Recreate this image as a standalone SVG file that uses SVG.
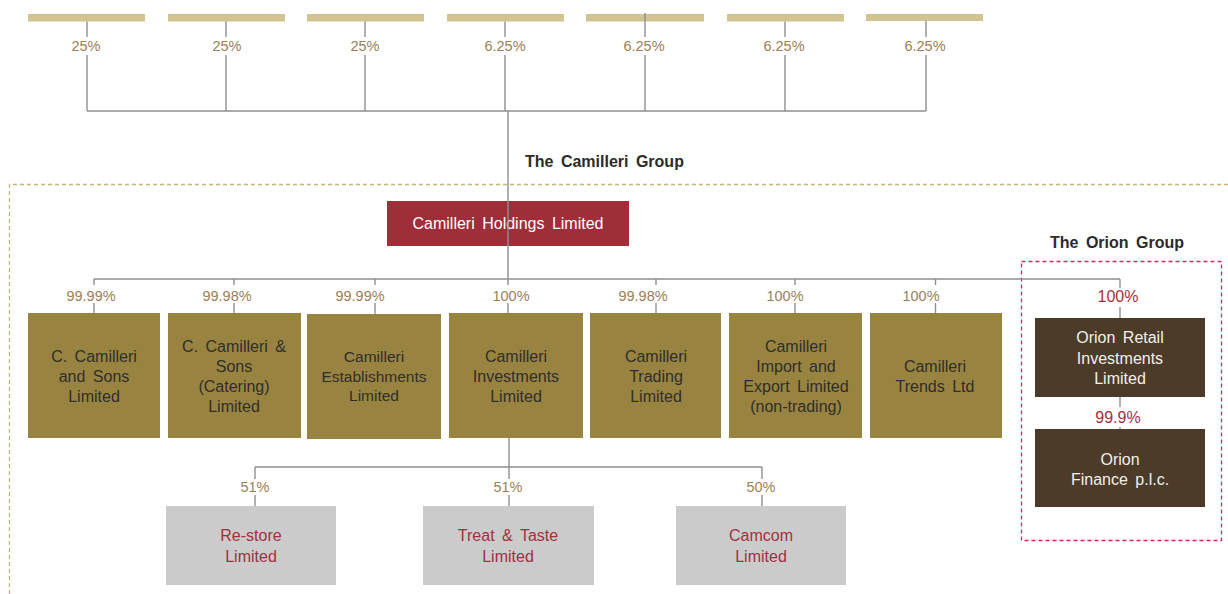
<svg xmlns="http://www.w3.org/2000/svg" width="1228" height="594" viewBox="0 0 1228 594">
  <style>
    text { font-family: "Liberation Sans", Arial, sans-serif; }
    .bar { fill: #d2c491; }
    .pct { font-size: 14.5px; fill: #9b7e58; text-anchor: middle; }
    .pct-red { font-size: 16px; fill: #a3303e; text-anchor: middle; }
    .title { font-size: 16px; font-weight: bold; fill: #2b2b2b; word-spacing: 3px; }
    .gold { fill: #998340; }
    .gold-t { font-size: 16px; fill: #2f2f2b; text-anchor: middle; word-spacing: 3px; }
    .hold { fill: #9e2e38; }
    .hold-t { font-size: 16px; fill: #ffffff; text-anchor: middle; word-spacing: 3px; }
    .orion { fill: #4b3b28; }
    .orion-t { font-size: 16px; fill: #f2f0ec; text-anchor: middle; word-spacing: 3px; }
    .grey { fill: #cbcbcb; }
    .grey-t { font-size: 16px; fill: #a3303e; text-anchor: middle; word-spacing: 3px; }
    .ln { stroke: #8f8f8f; stroke-width: 1.4; fill: none; }
  </style>

  <!-- group boundaries -->
  <g id="camilleri-group">
    <path d="M1228 184.5 H9.5 V594" fill="none" stroke="#c8b27a" stroke-width="1.3" stroke-dasharray="4 3"/>
    <text class="title" x="525" y="167">The Camilleri Group</text>
  </g>
  <g id="orion-group">
    <rect x="1021.5" y="261.5" width="200" height="279" fill="none" stroke="#d4265a" stroke-width="1.3" stroke-dasharray="4 3"/>
    <text class="title" x="1117" y="248" text-anchor="middle">The Orion Group</text>
  </g>

  <!-- shareholders -->
  <g id="shareholders">
    <rect class="bar" x="28" y="14" width="117" height="7.5"/>
    <rect class="bar" x="168" y="14" width="117" height="7.5"/>
    <rect class="bar" x="307" y="14" width="117" height="7.5"/>
    <rect class="bar" x="447" y="14" width="117" height="7.5"/>
    <rect class="bar" x="586" y="14" width="118" height="7.5"/>
    <rect class="bar" x="727" y="14" width="117" height="7.5"/>
    <rect class="bar" x="866" y="14" width="117" height="7"/>
  </g>

  <g id="holdings">
    <rect class="hold" x="387" y="201" width="242" height="45"/>
    <text class="hold-t" x="508" y="229">Camilleri Holdings Limited</text>
  </g>

  <g id="c-camilleri-sons">
    <rect class="gold" x="28" y="313" width="132" height="125"/>
    <text class="gold-t" x="94" y="362">C. Camilleri</text>
    <text class="gold-t" x="94" y="382">and Sons</text>
    <text class="gold-t" x="94" y="402">Limited</text>
  </g>
  <g id="c-camilleri-catering">
    <rect class="gold" x="168" y="313" width="133" height="125"/>
    <text class="gold-t" x="234" y="352">C. Camilleri &amp;</text>
    <text class="gold-t" x="234" y="372">Sons</text>
    <text class="gold-t" x="234" y="392">(Catering)</text>
    <text class="gold-t" x="234" y="412">Limited</text>
  </g>
  <g id="camilleri-establishments">
    <rect class="gold" x="307" y="314" width="134" height="125"/>
    <text class="gold-t" x="374" y="362" style="font-size:15.5px">Camilleri</text>
    <text class="gold-t" x="374" y="382" style="font-size:15.5px">Establishments</text>
    <text class="gold-t" x="374" y="401" style="font-size:15.5px">Limited</text>
  </g>
  <g id="camilleri-investments">
    <rect class="gold" x="449" y="313" width="134" height="125"/>
    <text class="gold-t" x="516" y="362">Camilleri</text>
    <text class="gold-t" x="516" y="382">Investments</text>
    <text class="gold-t" x="516" y="402">Limited</text>
  </g>
  <g id="camilleri-trading">
    <rect class="gold" x="590" y="313" width="131" height="125"/>
    <text class="gold-t" x="656" y="362">Camilleri</text>
    <text class="gold-t" x="656" y="382">Trading</text>
    <text class="gold-t" x="656" y="402">Limited</text>
  </g>
  <g id="camilleri-import-export">
    <rect class="gold" x="729" y="313" width="133" height="125"/>
    <text class="gold-t" x="796" y="352">Camilleri</text>
    <text class="gold-t" x="796" y="372">Import and</text>
    <text class="gold-t" x="796" y="392">Export Limited</text>
    <text class="gold-t" x="796" y="412">(non-trading)</text>
  </g>
  <g id="camilleri-trends">
    <rect class="gold" x="870" y="313" width="132" height="125"/>
    <text class="gold-t" x="935" y="372">Camilleri</text>
    <text class="gold-t" x="935" y="392">Trends Ltd</text>
  </g>

  <g id="orion-retail">
    <rect class="orion" x="1035" y="318" width="170" height="79"/>
    <text class="orion-t" x="1120" y="343">Orion Retail</text>
    <text class="orion-t" x="1120" y="364">Investments</text>
    <text class="orion-t" x="1120" y="384">Limited</text>
  </g>
  <g id="orion-finance">
    <rect class="orion" x="1035" y="429" width="170" height="78"/>
    <text class="orion-t" x="1120" y="465">Orion</text>
    <text class="orion-t" x="1120" y="485">Finance p.l.c.</text>
  </g>

  <g id="re-store">
    <rect class="grey" x="166" y="506" width="170" height="79"/>
    <text class="grey-t" x="251" y="541">Re-store</text>
    <text class="grey-t" x="251" y="562">Limited</text>
  </g>
  <g id="treat-taste">
    <rect class="grey" x="423" y="506" width="171" height="79"/>
    <text class="grey-t" x="508" y="541">Treat &amp; Taste</text>
    <text class="grey-t" x="508" y="562">Limited</text>
  </g>
  <g id="camcom">
    <rect class="grey" x="676" y="506" width="170" height="79"/>
    <text class="grey-t" x="761" y="541">Camcom</text>
    <text class="grey-t" x="761" y="562">Limited</text>
  </g>

  <!-- ownership connectors -->
  <g id="connectors">
    <!-- shareholders to holdings -->
    <path class="ln" d="M87 21.5 V37 M87 55 V111
                        M226 21.5 V37 M226 55 V111
                        M365 21.5 V37 M365 55 V111
                        M505 21.5 V37 M505 55 V111
                        M645 13 V37 M645 55 V111
                        M785 21.5 V37 M785 55 V111
                        M926 21 V37 M926 55 V111
                        M87 111 H926
                        M508 111 V279"/>
    <!-- holdings to subsidiaries -->
    <path class="ln" d="M94 279 H1120
                        M94 279 V285 M94 303 V313
                        M234 279 V285 M234 303 V313
                        M375 279 V285 M375 303 V314
                        M508 279 V285 M508 303 V313
                        M656 279 V285 M656 303 V313
                        M795 279 V285 M795 303 V313
                        M935.5 279 V285 M935.5 303 V313
                        M1120 279 V288 M1120 307 V318
                        M1120 397 V407 M1120 427 V429"/>
    <!-- investments to associates -->
    <path class="ln" d="M509 438 V467 M255 467 H762
                        M255 467 V479 M255 495 V506
                        M509 467 V479 M509 495 V506
                        M762 467 V479 M762 495 V506"/>
  </g>

  <!-- holding percentages -->
  <g id="percentages">
    <text class="pct" x="86" y="51">25%</text>
    <text class="pct" x="227" y="51">25%</text>
    <text class="pct" x="365" y="51">25%</text>
    <text class="pct" x="505" y="51">6.25%</text>
    <text class="pct" x="644" y="51">6.25%</text>
    <text class="pct" x="784" y="51">6.25%</text>
    <text class="pct" x="925" y="51">6.25%</text>

    <text class="pct" x="91" y="301">99.99%</text>
    <text class="pct" x="227" y="301">99.98%</text>
    <text class="pct" x="360" y="301">99.99%</text>
    <text class="pct" x="511" y="301">100%</text>
    <text class="pct" x="643" y="301">99.98%</text>
    <text class="pct" x="785" y="301">100%</text>
    <text class="pct" x="921" y="301">100%</text>
    <text class="pct-red" x="1118" y="301.5">100%</text>
    <text class="pct-red" x="1118" y="422.5">99.9%</text>

    <text class="pct" x="255" y="492">51%</text>
    <text class="pct" x="508" y="492">51%</text>
    <text class="pct" x="761" y="492">50%</text>
  </g>
</svg>
